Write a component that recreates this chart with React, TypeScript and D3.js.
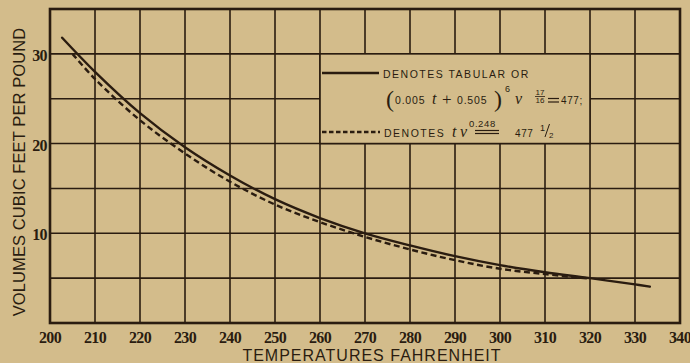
import React from "react";
import * as d3 from "d3";

// Saturated steam: volume (cu. ft per lb) against temperature (°F)
const tabularTemps = [202.7, 210, 220, 230, 240, 250, 260, 270, 280, 290, 300, 310, 320, 330, 333.3];
const tabularVolumes = [31.8, 28.0, 23.4, 19.6, 16.45, 13.8, 11.7, 10.0, 8.65, 7.45, 6.45, 5.65, 5.0, 4.3, 4.05];

const formulaTemps = [205, 210, 220, 230, 240, 250, 260, 270, 280, 290, 300, 310, 320];
const formulaVolumes = [30.0, 27.2, 22.6, 18.9, 15.75, 13.2, 11.25, 9.6, 8.2, 7.0, 6.05, 5.45, 4.95];

const xTicks = [200, 210, 220, 230, 240, 250, 260, 270, 280, 290, 300, 310, 320, 330, 340];
const yGrid = [0, 5, 10, 15, 20, 25, 30, 35];
const yLabels = [10, 20, 30];

const W = 690;
const H = 363;
const BG = "#d3bc8b";
const INK = "#2a1c10";
const SANS = "'Liberation Sans', Arial, sans-serif";
const SERIF = "'Liberation Serif', 'Times New Roman', serif";

export default function App() {
  const x = d3.scaleLinear().domain([200, 340]).range([50, 680]);
  const y = d3.scaleLinear().domain([0, 35]).range([323, 9]);

  const line = d3
    .line<[number, number]>()
    .x((d) => x(d[0]))
    .y((d) => y(d[1]))
    .curve(d3.curveCatmullRom.alpha(0.5));

  const tabular = line(tabularTemps.map((t, i) => [t, tabularVolumes[i]]) as [number, number][]) || "";
  const formula = line(formulaTemps.map((t, i) => [t, formulaVolumes[i]]) as [number, number][]) || "";

  // legend panel spans 260–320 °F and 20–30 cu. ft
  const lx0 = x(260);
  const lx1 = x(320);
  const ly0 = y(30);
  const ly1 = y(20);

  return (
    <svg
      width={W}
      height={H}
      viewBox={`0 0 ${W} ${H}`}
      style={{ position: "absolute", left: 0, top: 0, display: "block" }}
    >
      <rect x={0} y={0} width={W} height={H} fill={BG} />

      {/* grid */}
      <g stroke={INK} strokeWidth={1.6}>
        {xTicks.map((t) => (
          <line key={"gx" + t} x1={x(t)} x2={x(t)} y1={y(35)} y2={y(0)} />
        ))}
        {yGrid.map((v) => (
          <line key={"gy" + v} x1={x(200)} x2={x(340)} y1={y(v)} y2={y(v)} />
        ))}
      </g>

      {/* legend panel */}
      <rect
        x={lx0}
        y={ly0}
        width={lx1 - lx0}
        height={ly1 - ly0}
        fill={BG}
        stroke={INK}
        strokeWidth={1.6}
      />

      {/* curves */}
      <path d={tabular} fill="none" stroke={INK} strokeWidth={2.4} strokeLinecap="round" />
      <path d={formula} fill="none" stroke={INK} strokeWidth={2.4} strokeDasharray="6 3.5" />

      {/* frame */}
      <rect
        x={x(200)}
        y={y(35)}
        width={x(340) - x(200)}
        height={y(0) - y(35)}
        fill="none"
        stroke={INK}
        strokeWidth={2.6}
      />

      {/* x tick labels */}
      <g fill={INK} fontFamily={SERIF} fontWeight="bold" fontSize={16} textAnchor="middle" letterSpacing={-0.6}>
        {xTicks.map((t) => (
          <text key={"xl" + t} x={x(t)} y={342.5}>
            {t}
          </text>
        ))}
      </g>

      {/* y tick labels */}
      <g fill={INK} fontFamily={SERIF} fontWeight="bold" fontSize={16} textAnchor="end" letterSpacing={-0.6}>
        {yLabels.map((v) => (
          <text key={"yl" + v} x={47} y={y(v) + 7}>
            {v}
          </text>
        ))}
      </g>

      {/* axis titles */}
      <text
        x={372}
        y={361}
        fill={INK}
        fontFamily={SANS}
        fontSize={16}
        textAnchor="middle"
        letterSpacing={1}
      >
        TEMPERATURES FAHRENHEIT
      </text>
      <text
        transform="translate(24.5,172) rotate(-90)"
        fill={INK}
        fontFamily={SANS}
        fontSize={16.5}
        textAnchor="middle"
        letterSpacing={0.1}
      >
        VOLUMES CUBIC FEET PER POUND
      </text>

      {/* legend */}
      <g fill={INK}>
        <line x1={322} x2={379} y1={73} y2={73} stroke={INK} strokeWidth={2.4} />
        <text x={383} y={77.5} fontFamily={SANS} fontSize={10.5} letterSpacing={1.5}>
          DENOTES TABULAR OR
        </text>

        {/* (0.005 t + 0.505)^6 v^(17/16) = 477; */}
        <text x={386} y={107} fontFamily={SERIF} fontSize={24}>(</text>
        <text x={395} y={104} fontFamily={SANS} fontSize={10.5} letterSpacing={0.8}>0.005</text>
        <text x={432} y={104} fontFamily={SERIF} fontStyle="italic" fontSize={16}>t</text>
        <text x={442} y={105} fontFamily={SERIF} fontSize={17}>+</text>
        <text x={457} y={104} fontFamily={SANS} fontSize={10.5} letterSpacing={0.8}>0.505</text>
        <text x={494} y={107} fontFamily={SERIF} fontSize={24}>)</text>
        <text x={505} y={92} fontFamily={SANS} fontSize={9}>6</text>
        <text x={515} y={104} fontFamily={SERIF} fontStyle="italic" fontSize={16}>v</text>
        <text x={540} y={95} fontFamily={SANS} fontSize={8} textAnchor="middle">17</text>
        <line x1={535} x2={545} y1={96.5} y2={96.5} stroke={INK} strokeWidth={0.8} />
        <text x={540} y={103} fontFamily={SANS} fontSize={8} textAnchor="middle">16</text>
        <line x1={548} x2={559} y1={98.5} y2={98.5} stroke={INK} strokeWidth={1.2} />
        <line x1={548} x2={559} y1={102} y2={102} stroke={INK} strokeWidth={1.2} />
        <text x={561} y={104} fontFamily={SANS} fontSize={10} letterSpacing={0.6}>477;</text>

        <line x1={322} x2={380} y1={132} y2={132} stroke={INK} strokeWidth={2.4} strokeDasharray="4.5 2.5" />
        <text x={384} y={136.5} fontFamily={SANS} fontSize={10.5} letterSpacing={1.5}>DENOTES</text>
        <text x={452} y={137} fontFamily={SERIF} fontStyle="italic" fontSize={16}>t</text>
        <text x={460} y={137} fontFamily={SERIF} fontStyle="italic" fontSize={16}>v</text>
        <text x={469} y={127} fontFamily={SANS} fontSize={9.5} letterSpacing={0.6}>0.248</text>
        <line x1={475} x2={499} y1={130.5} y2={130.5} stroke={INK} strokeWidth={1.2} />
        <line x1={475} x2={499} y1={133.5} y2={133.5} stroke={INK} strokeWidth={1.2} />
        <text x={515} y={137} fontFamily={SANS} fontSize={10} letterSpacing={0.6}>477</text>
        <text x={540} y={131} fontFamily={SANS} fontSize={9}>1</text>
        <line x1={545} x2={549.5} y1={137} y2={124} stroke={INK} strokeWidth={1} />
        <text x={549} y={138} fontFamily={SANS} fontSize={8}>2</text>
      </g>
    </svg>
  );
}
